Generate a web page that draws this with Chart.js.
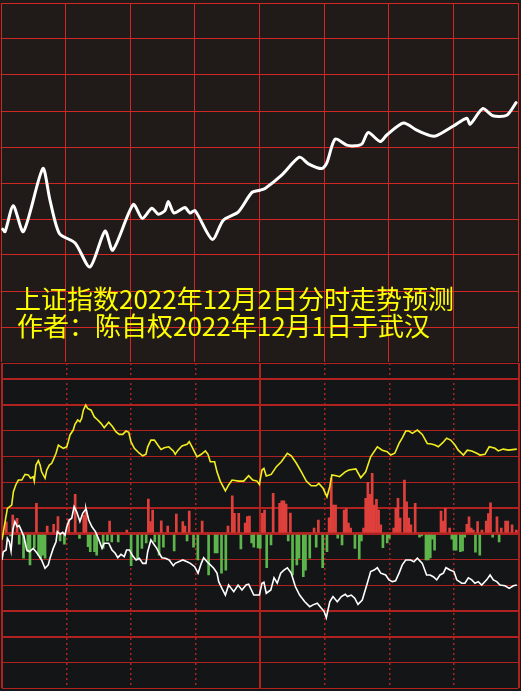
<!DOCTYPE html>
<html lang="zh-CN">
<head>
<meta charset="utf-8">
<title>上证指数分时走势预测</title>
<script src="https://cdn.jsdelivr.net/npm/chart.js@4.4.1/dist/chart.umd.min.js"></script>
<style>
  html, body { margin: 0; padding: 0; background: #141517; }
  #stage { position: relative; width: 521px; height: 691px; overflow: hidden; background: #141517; }
  #tickChart { position: absolute; left: 0; top: 0; background: #201b19; }
  #flowChart { position: absolute; left: 0; top: 362px; background: #141517; }
  .caption {
    position: absolute; color: #ffff00; white-space: nowrap;
    font-family: "Noto Sans CJK SC", sans-serif; font-size: 26px; line-height: 27px;
  }
  #cap1 { left: 15px; top: 284px; }
  #cap2 { left: 17px; top: 311px; }
</style>
</head>
<body>
<div id="stage">
  <canvas id="tickChart" width="521" height="364"></canvas>
  <canvas id="flowChart" width="521" height="329"></canvas>
  <div class="caption" id="cap1"></div>
  <div class="caption" id="cap2"></div>
</div>
<script>
/* 上证指数 2022-12-02 分时预测: forecast line on top, intraday strength + flow bars below */

var titleLines = ['上证指数2022年12月2日分时走势预测', '作者：陈自权2022年12月1日于武汉'];

// minutes since 9:30 (0..240, lunch break removed)
var timeTicks = [0, 30, 60, 90, 120, 150, 180, 210, 240];
var priceTicks = [3130, 3136, 3142, 3148, 3154, 3160, 3166, 3172, 3178, 3184, 3190];

var forecastMinutes = [0.8, 1.9, 5.7, 10.4, 19.4, 22.7, 27.1, 34.4, 41.3, 48.3,
  51.9, 61.4, 65.6, 70.0, 73.0, 76.1, 77.7, 80.3, 85.4, 87.7,
  90.1, 98.1, 103.2, 110.2, 116.4, 120.2, 122.6, 130.3, 138.5, 142.7,
  148.9, 151.2, 155.1, 160.5, 164.3, 167.5, 170.5, 176.0, 179.1, 186.8,
  193.0, 199.2, 202.3, 210.0, 216.2, 217.8, 223.6, 228.3, 234.8, 239.1];
var forecastIndex = [3152.3, 3151.9, 3156.2, 3151.9, 3162.4, 3157.2, 3151.6, 3150.0, 3146.0, 3152.0,
  3148.8, 3156.4, 3154.1, 3155.8, 3154.8, 3155.4, 3156.9, 3155.0, 3155.9, 3155.0,
  3155.4, 3150.6, 3153.8, 3155.2, 3158.4, 3158.8, 3159.1, 3161.3, 3164.3, 3163.2,
  3162.4, 3163.3, 3167.3, 3166.3, 3166.2, 3166.5, 3168.4, 3166.9, 3168.0, 3170.0,
  3168.8, 3167.9, 3167.9, 3169.5, 3170.8, 3169.8, 3172.4, 3171.2, 3171.3, 3173.4];

// lower panel, one unit per grid row; 6.62 is the panel's top edge
var levelTicks = [-6, -5, -4, -3, -2, -1, 0, 1, 2, 3, 4, 5, 6, 6.62];
var solidTimeTicks = [0, 120, 240];
var dottedTimeTicks = [30, 60, 90, 150, 180, 210];

var yellowMinutes = [0, 2.5, 4.5, 5.3, 6.4, 7.6, 9.2, 10.7, 12.2, 13.3,
  14.5, 15.0, 15.8, 16.9, 17.7, 18.4, 20.0, 20.8, 22.0, 23.1,
  23.8, 25.1, 26.2, 27.3, 28.5, 30.1, 30.8, 31.6, 33.1, 33.9,
  35.2, 36.2, 37.0, 37.8, 38.9, 39.8, 41.4, 42.9, 44.5, 46.0,
  47.5, 49.6, 51.4, 53.0, 54.5, 56.1, 57.6, 58.9, 59.9, 61.5,
  63.8, 65.4, 66.9, 67.7, 69.2, 70.8, 72.4, 73.9, 75.4, 77.5,
  79.6, 80.5, 81.8, 83.6, 86.0, 87.0, 88.3, 90.6, 92.6, 94.5,
  95.7, 96.8, 98.8, 99.9, 101.4, 103.8, 105.3, 106.9, 110.0, 112.3,
  114.6, 116.5, 118.5, 119.6, 120.8, 121.7, 122.8, 125.1, 127.5, 129.8,
  132.6, 134.4, 136.8, 139.1, 141.4, 143.7, 146.0, 147.2, 149.2, 151.0,
  152.3, 153.3, 155.3, 156.9, 159.5, 161.2, 164.4, 166.7, 169.0, 171.3,
  174.4, 176.7, 179.0, 180.6, 182.5, 184.5, 186.0, 187.6, 189.1, 190.7,
  193.0, 195.3, 197.6, 199.5, 201.2, 202.7, 204.8, 206.6, 208.5, 210.5,
  212.0, 214.4, 216.2, 218.3, 220.6, 222.1, 224.4, 226.4, 229.1, 230.6,
  232.9, 235.3, 239.2];
var yellowValues = [-0.24, 0.98, 1.11, 1.63, 1.89, 2.08, 2.08, 2.30, 2.28, 2.15,
  2.21, 2.04, 2.66, 2.83, 2.66, 2.40, 2.15, 2.47, 2.66, 2.73,
  2.86, 3.12, 3.44, 3.37, 3.31, 3.37, 3.57, 3.83, 4.02, 4.24,
  4.41, 4.34, 4.47, 4.79, 4.99, 4.86, 4.79, 4.53, 4.41, 4.28,
  4.11, 4.32, 4.15, 3.95, 3.85, 3.85, 3.98, 3.93, 3.57, 3.31,
  3.12, 3.02, 3.08, 3.37, 3.63, 3.63, 3.44, 3.27, 3.33, 3.37,
  3.21, 3.08, 3.24, 3.40, 3.47, 3.57, 3.37, 2.98, 3.08, 3.21,
  3.08, 2.79, 2.79, 2.40, 2.04, 1.66, 1.89, 2.08, 2.04, 2.04,
  2.25, 2.08, 2.04, 1.91, 2.47, 2.53, 2.24, 2.30, 2.60, 2.79,
  3.12, 3.02, 2.73, 2.40, 2.04, 1.86, 1.86, 1.95, 1.76, 1.43,
  1.82, 2.28, 2.25, 2.21, 2.40, 2.47, 2.51, 2.17, 2.40, 2.98,
  3.37, 3.24, 3.18, 3.05, 3.12, 3.50, 3.72, 3.98, 3.98, 3.89,
  4.02, 3.85, 3.50, 3.48, 3.44, 3.37, 3.53, 3.70, 3.63, 3.44,
  3.24, 3.05, 3.24, 3.21, 3.12, 3.05, 3.08, 3.37, 3.31, 3.21,
  3.28, 3.24, 3.28];

var whiteMinutes = [0, 0.6, 1.9, 2.5, 3.4, 4.2, 5.0, 6.0, 7.1, 8.0,
  9.2, 10.2, 11.5, 12.7, 14.5, 15.8, 16.9, 18.4, 20.0, 21.5,
  22.3, 23.8, 25.1, 25.7, 27.0, 28.2, 29.3, 30.1, 31.3, 32.4,
  33.5, 34.7, 36.2, 37.5, 38.6, 39.0, 40.3, 41.8, 43.4, 44.9,
  46.5, 47.5, 49.6, 51.1, 52.6, 53.8, 55.3, 56.8, 57.9, 59.2,
  60.7, 62.3, 63.8, 65.4, 66.9, 67.7, 69.2, 70.8, 71.9, 73.1,
  74.3, 75.9, 77.7, 79.6, 80.5, 82.1, 84.0, 86.0, 87.5, 89.5,
  91.1, 92.6, 93.7, 95.3, 96.8, 98.4, 99.9, 100.7, 102.2, 103.8,
  105.3, 107.7, 109.7, 111.5, 113.4, 114.6, 117.0, 119.6, 120.8, 121.7,
  122.8, 124.9, 126.4, 127.9, 129.5, 131.0, 132.6, 134.4, 136.3, 138.3,
  140.7, 143.0, 144.5, 146.5, 148.4, 149.6, 150.7, 152.3, 153.8, 155.8,
  157.7, 159.5, 160.5, 162.3, 163.9, 165.4, 167.4, 169.5, 171.3, 172.9,
  174.4, 176.0, 178.3, 179.8, 181.4, 182.9, 184.5, 186.0, 187.6, 189.9,
  191.4, 193.0, 195.3, 197.3, 198.9, 200.4, 202.0, 203.5, 205.1, 206.3,
  208.2, 210.0, 211.3, 213.6, 215.1, 216.7, 218.3, 219.8, 221.3, 222.9,
  225.2, 226.8, 228.3, 229.9, 231.4, 233.7, 235.7, 237.6, 239.2];
var whiteValues = [-1.02, -0.70, -0.63, -0.18, -0.31, -0.67, 0.14, 0.47, 0.27, 0.31,
  0.08, -0.12, -0.63, -0.70, -0.57, -0.70, -0.83, -1.02, -1.34, -1.21,
  -0.95, -0.57, -0.31, 0.08, -0.02, 0.05, -0.05, 0.27, 0.53, 0.60,
  1.05, 0.85, 0.47, 0.79, 0.92, 0.98, 0.53, 0.27, 0.08, -0.21,
  -0.57, -0.37, -0.37, -0.63, -0.76, -0.93, -0.80, -0.89, -0.63, -0.63,
  -0.86, -1.02, -0.95, -1.15, -1.15, -0.70, -0.24, -0.44, -0.57, -0.76,
  -0.93, -0.95, -1.02, -1.24, -1.15, -1.09, -1.02, -1.09, -1.15, -1.28,
  -1.53, -1.15, -0.93, -1.09, -1.21, -1.34, -1.53, -1.86, -2.12, -2.38,
  -1.99, -2.25, -1.99, -2.18, -1.99, -1.96, -2.38, -2.38, -1.92, -1.88,
  -2.31, -2.18, -1.71, -1.92, -1.53, -1.41, -1.32, -1.53, -2.05, -2.38,
  -2.64, -2.83, -2.76, -2.70, -2.89, -3.00, -3.26, -2.64, -2.44, -2.64,
  -2.44, -2.35, -2.44, -2.38, -2.50, -2.74, -2.57, -1.99, -1.47, -1.41,
  -1.32, -1.53, -1.60, -1.79, -1.86, -1.83, -1.53, -1.21, -1.02, -1.02,
  -1.09, -0.95, -1.15, -1.60, -1.60, -1.67, -1.79, -1.60, -1.53, -1.32,
  -1.41, -1.47, -1.79, -1.92, -1.92, -1.71, -1.79, -1.92, -1.86, -1.99,
  -1.79, -1.60, -1.79, -1.86, -1.99, -2.02, -2.12, -2.02, -1.99];

var flowMinutes = [2, 4, 5, 7, 8, 10, 12, 13, 15, 16,
  17, 18, 19, 20, 21, 24, 26, 27, 29, 31,
  34, 36, 38, 39, 40, 41, 43, 44, 47, 49,
  50, 51, 54, 58, 60, 63, 65, 67, 68, 69,
  70, 71, 73, 74, 75, 77, 80, 81, 84, 85,
  86, 87, 89, 91, 93, 96, 99, 100, 102, 104,
  105, 107, 108, 110, 111, 113, 114, 115, 116, 117,
  119, 120, 121, 122, 123, 125, 126, 129, 130, 131,
  132, 133, 134, 135, 137, 138, 140, 141, 143, 145,
  146, 147, 149, 151, 152, 153, 154, 155, 156, 158,
  159, 160, 161, 162, 164, 166, 167, 168, 169, 170,
  171, 172, 173, 174, 175, 176, 177, 179, 180, 182,
  183, 184, 185, 187, 188, 189, 190, 192, 194, 195,
  197, 198, 199, 200, 201, 204, 205, 206, 208, 209,
  210, 211, 213, 214, 215, 216, 217, 218, 219, 220,
  221, 222, 223, 225, 226, 227, 228, 230, 231, 232,
  234, 235, 237, 239];
var flowValues = [0.46, -0.09, 0.72, 0.60, -0.41, -0.95, -0.70, -1.21, -0.55, 1.18,
  -0.83, -0.95, -0.83, -0.95, 0.30, 0.36, 0.66, -0.28, -0.41, 0.57,
  1.53, -0.18, 0.72, 0.92, -0.50, -0.70, -0.70, -0.83, -0.57, -0.28,
  0.49, -0.32, -0.32, 0.14, -1.24, -1.02, -0.57, -0.36, 1.34, 0.47,
  0.92, -0.32, -0.83, 0.50, -0.52, 0.30, -0.67, 0.76, 0.47, 0.30,
  -0.28, 0.88, -0.52, -1.02, 0.49, -1.60, -0.75, -0.75, -1.53, -1.41,
  0.30, 1.47, 0.79, 0.79, -0.59, 0.41, 0.66, 0.68, -0.36, -0.52,
  -0.55, -0.57, 0.79, 0.92, -1.32, -0.44, 1.57, 1.18, 1.27, 1.27,
  1.15, -0.28, 0.80, -1.60, -1.21, -0.95, -1.67, -1.41, -0.95, 0.22,
  -0.52, 0.53, -1.32, -0.70, 0.62, 2.16, 1.11, 1.11, -0.17, -0.44,
  0.92, 0.96, 0.41, 0.22, -0.57, -0.98, -0.28, 0.22, 1.37, 1.99,
  1.53, 2.34, 1.11, 1.33, 0.92, 0.34, -0.54, -0.36, -0.17, 0.22,
  0.98, 1.37, 0.61, 2.08, 1.24, 0.61, 0.34, 1.18, -0.13, -0.09,
  -1.02, -1.02, -0.94, -0.21, -0.64, 0.88, 0.49, 0.98, 0.22, -0.21,
  -0.64, -0.64, -0.70, -0.67, -0.13, 0.36, 0.65, 0.22, 0.14, -0.72,
  0.47, -0.83, 0.14, 0.49, 0.78, 1.20, -0.13, 0.65, -0.32, 0.22,
  0.49, 0.49, 0.34, 0.14];

(function () {
  var GRID_TOP = '#cf2723';
  var GRID_LOW = '#b0221f';
  var heavyLevels = [6, 5, 1, -3, -4];

  if (typeof Chart === 'undefined') {
    return;
  }

  document.getElementById('cap1').textContent = titleLines[0];
  document.getElementById('cap2').textContent = titleLines[1];

  function pairs(xs, ys) {
    return xs.map(function (x, i) { return { x: x, y: ys[i] }; });
  }

  function fixedTicks(list) {
    return function (axis) {
      axis.ticks = list.map(function (v) { return { value: v }; });
    };
  }

  function plainAxis(extra) {
    var axis = {
      type: 'linear',
      ticks: { display: false, autoSkip: false },
      border: { display: false },
      grid: { drawTicks: false },
    };
    Object.keys(extra).forEach(function (k) { axis[k] = extra[k]; });
    return axis;
  }

  var quiet = {
    responsive: false,
    animation: false,
    devicePixelRatio: 1,
    events: [],
    plugins: { legend: { display: false }, tooltip: { enabled: false } },
  };

  new Chart(document.getElementById('tickChart'), {
    type: 'line',
    data: {
      datasets: [
        {
          data: pairs(forecastMinutes, forecastIndex),
          borderColor: '#ffffff',
          borderWidth: 3,
          pointRadius: 0,
          tension: 0.25,
          borderCapStyle: 'round',
          borderJoinStyle: 'round',
        },
      ],
    },
    options: Object.assign({}, quiet, {
      layout: { padding: { left: 1, right: 3, top: 3, bottom: 1 } },
      scales: {
        x: plainAxis({
          min: 0, max: 240,
          grid: { drawTicks: false, color: GRID_TOP, lineWidth: 1 },
          afterBuildTicks: fixedTicks(timeTicks),
        }),
        y: plainAxis({
          min: 3130, max: 3190,
          grid: { drawTicks: false, color: GRID_TOP, lineWidth: 1 },
          afterBuildTicks: fixedTicks(priceTicks),
        }),
      },
    }),
  });

  new Chart(document.getElementById('flowChart'), {
    type: 'bar',
    data: {
      datasets: [
        {
          type: 'line',
          data: pairs(whiteMinutes, whiteValues),
          borderColor: '#ffffff',
          borderWidth: 1.6,
          pointRadius: 0,
          tension: 0,
        },
        {
          type: 'line',
          data: pairs(yellowMinutes, yellowValues),
          borderColor: '#f2ee1e',
          borderWidth: 1.6,
          pointRadius: 0,
          tension: 0,
        },
        {
          type: 'bar',
          data: pairs(flowMinutes, flowValues),
          backgroundColor: function (ctx) {
            var v = ctx.raw ? ctx.raw.y : 0;
            return v >= 0 ? '#e0403c' : '#5cb64c';
          },
          borderWidth: 0,
          barThickness: 2,
        },
      ],
    },
    options: Object.assign({}, quiet, {
      layout: { padding: { left: 2, right: 2.5, top: 1, bottom: 2.6 } },
      scales: {
        x: plainAxis({
          min: 0, max: 240, offset: false,
          grid: { drawTicks: false, offset: false, color: GRID_LOW, lineWidth: 2 },
          afterBuildTicks: fixedTicks(solidTimeTicks),
        }),
        x2: plainAxis({
          axis: 'x', position: 'bottom',
          min: 0, max: 240, offset: false,
          border: { display: false, dash: [2, 3] },
          grid: { drawTicks: false, offset: false, color: GRID_LOW, lineWidth: 1.5 },
          afterBuildTicks: fixedTicks(dottedTimeTicks),
        }),
        y: plainAxis({
          min: -6, max: 6.62,
          grid: {
            drawTicks: false,
            color: GRID_LOW,
            lineWidth: function (ctx) {
              var v = ctx.tick ? ctx.tick.value : null;
              if (v === 0) return 3;
              return heavyLevels.indexOf(v) >= 0 ? 2 : 1;
            },
          },
          afterBuildTicks: fixedTicks(levelTicks),
        }),
      },
    }),
  });
})();
</script>
</body>
</html>
